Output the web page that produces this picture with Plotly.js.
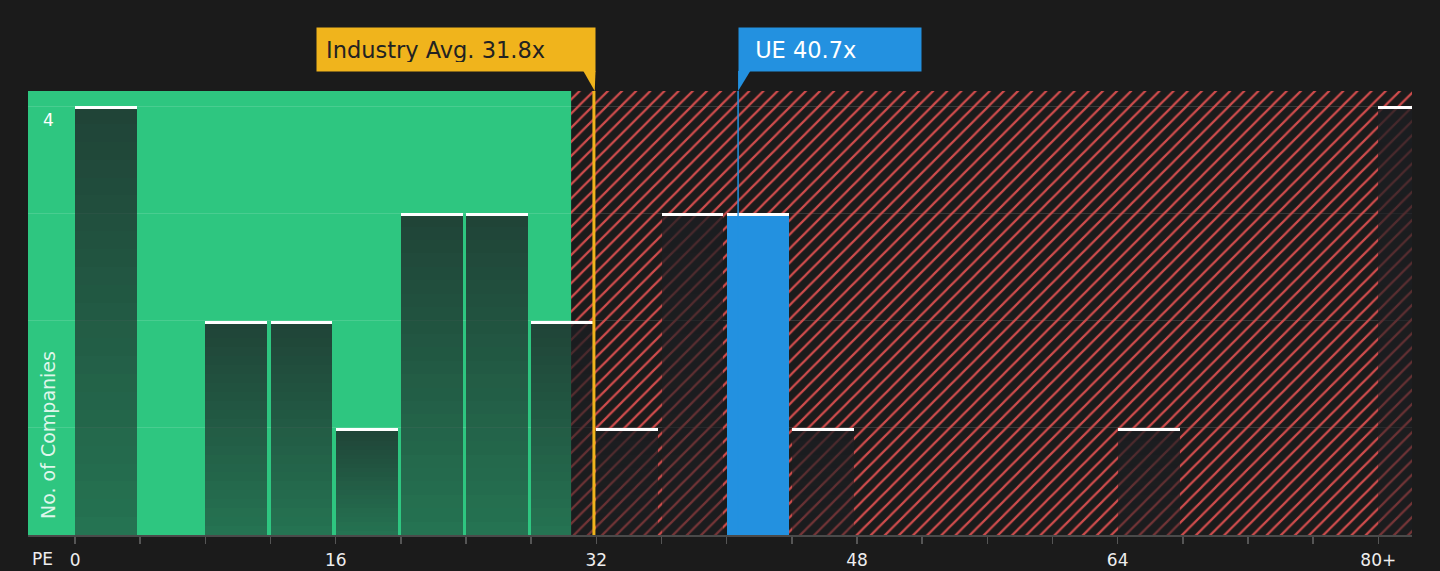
<!DOCTYPE html>
<html lang="en">
<head>
    <meta charset="UTF-8">
    <title>PE Distribution</title>
    <script src="https://cdn.plot.ly/plotly-3.0.1.min.js"></script>
    <style>
        body { margin: 0; background-color: #1b1b1b; }
        #chart { width: 1440px; height: 571px; }
    </style>
</head>
<body>
<div id="chart"></div>
<script>
    // Histogram data (PE bins, 4 wide)
    var binStart = [0, 8, 12, 16, 20, 24, 28, 32, 36, 40, 44, 64, 80];
    var counts = [4, 2, 2, 1, 3, 3, 2, 1, 3, 3, 1, 1, 4];
    var binWidth = 4;

    var industryAvg = 31.8;
    var companyPE = 40.7;
    var companyName = 'UE';
    var fairLimit = 30.45; // green / red boundary

    var xTickVals = [0, 4, 8, 12, 16, 20, 24, 28, 32, 36, 40, 44, 48, 52, 56, 60, 64, 68, 72, 76, 80];
    var xTickText = ['0', '', '', '', '16', '', '', '', '32', '', '', '', '48', '', '', '', '64', '', '', '', '80+'];
    var xRange = [-2.89, 82.07];
    var yRange = [0, 4.14];

    var barW = binWidth * 0.95;
    var isCompany = binStart.map(b => companyPE >= b && companyPE < b + binWidth);

    // Red hatched "expensive" zone
    var hatch = {
        type: 'bar',
        x: [(fairLimit + xRange[1]) / 2],
        y: [yRange[1]],
        width: [xRange[1] - fairLimit],
        marker: {
            color: 'rgba(0,0,0,0)',
            line: { width: 0 },
            pattern: { shape: '/', fgcolor: '#cf4c4c', bgcolor: 'rgba(0,0,0,0)', size: 10, solidity: 0.22 }
        },
        hoverinfo: 'skip'
    };

    // each bar is split in slices so it fades from dark (top) to lighter (bottom)
    var slices = 24;
    var sx = [], sy = [], sbase = [], scol = [];
    for (var k = 0; k < slices; k++) {
        var a = 0.49 + (0.78 - 0.49) * (k + 0.5) / slices;
        binStart.forEach(function (b, i) {
            sx.push(b);
            sy.push(counts[i] / slices);
            sbase.push(counts[i] * k / slices);
            scol.push(isCompany[i] ? '#2391e0' : 'rgba(28,30,34,' + a.toFixed(3) + ')');
        });
    }
    var bars = {
        type: 'bar',
        x: sx,
        y: sy,
        base: sbase,
        offset: 0,
        width: barW,
        marker: { color: scol, line: { width: 0 } }
    };

    // white caps on top of each bar
    var caps = {
        type: 'bar',
        x: binStart,
        y: counts.map(() => 0.03),
        base: counts.map(c => c - 0.03),
        offset: 0,
        width: barW,
        marker: { color: '#ffffff', line: { width: 0 } }
    };

    var tailTop = 1.045;
    var layout = {
        width: 1440,
        height: 571,
        margin: { l: 28, r: 28, t: 91, b: 36 },
        paper_bgcolor: '#1b1b1b',
        plot_bgcolor: '#1b1b1b',
        barmode: 'overlay',
        bargap: 0,
        showlegend: false,
        font: { family: 'DejaVu Sans, sans-serif', color: '#eeeeee', size: 17 },
        xaxis: {
            range: xRange,
            tickvals: xTickVals,
            ticktext: xTickText,
            ticks: 'outside',
            ticklen: 7,
            tickcolor: '#555555',
            tickwidth: 1.5,
            ticklabelstandoff: 2,
            showgrid: false,
            zeroline: false,
            showline: true,
            linecolor: '#4a4a4a',
            linewidth: 2,
            tickfont: { size: 17, color: '#eeeeee' }
        },
        yaxis: {
            range: yRange,
            tickvals: [1, 2, 3, 4],
            ticktext: ['', '', '', '4'],
            ticklabelposition: 'inside bottom',
            ticklabelstandoff: 12,
            ticklabelshift: 2,
            showgrid: true,
            gridcolor: 'rgba(255,255,255,0.13)',
            gridwidth: 1,
            zeroline: false,
            showline: false,
            tickfont: { size: 17, color: '#ffffff' }
        },
        shapes: [
            { type: 'rect', xref: 'x', yref: 'paper', x0: xRange[0], x1: fairLimit, y0: 0, y1: 1,
              fillcolor: '#2ec680', line: { width: 0 }, layer: 'below' },
            { type: 'line', xref: 'x', yref: 'paper', x0: industryAvg + 0.05, x1: industryAvg + 0.05, y0: 0, y1: 1,
              line: { color: '#f0b41c', width: 3 } },
            { type: 'line', xref: 'x', yref: 'paper', x0: companyPE, x1: companyPE, y0: 0, y1: 1,
              line: { color: '#2391e0', width: 1.5 } },
            { type: 'path', xref: 'x', yref: 'paper',
              path: 'M ' + (industryAvg - 0.6) + ',' + tailTop + ' L ' + (industryAvg + 0.15) + ',' + tailTop +
                    ' L ' + (industryAvg + 0.1) + ',1 Z',
              fillcolor: '#f0b41c', line: { width: 0 } },
            { type: 'path', xref: 'x', yref: 'paper',
              path: 'M ' + companyPE + ',' + tailTop + ' L ' + (companyPE + 0.75) + ',' + tailTop +
                    ' L ' + companyPE + ',1 Z',
              fillcolor: '#2391e0', line: { width: 0 } }
        ],
        annotations: [
            { x: industryAvg + 0.15, xref: 'x', y: 1, yref: 'paper', xanchor: 'right', yanchor: 'bottom',
              yshift: 19, showarrow: false, text: 'Industry Avg. ' + industryAvg + 'x',
              bgcolor: '#f0b41c', borderpad: 9, width: 260, height: 25, align: 'left',
              font: { size: 22.5, color: '#222222' } },
            { x: companyPE, xref: 'x', y: 1, yref: 'paper', xanchor: 'left', yanchor: 'bottom',
              yshift: 19, showarrow: false, text: '&nbsp;' + companyName + ' ' + companyPE + 'x',
              bgcolor: '#2391e0', borderpad: 9, width: 164, height: 25, align: 'left',
              font: { size: 22.5, color: '#ffffff' } },
            { x: 0, xref: 'paper', y: 0, yref: 'paper', xanchor: 'left', yanchor: 'bottom',
              xshift: 7, yshift: 14, textangle: -90, showarrow: false, text: 'No. of Companies',
              font: { size: 19, color: 'rgba(255,255,255,0.85)' } },
            { x: 0, xref: 'paper', y: 0, yref: 'paper', xanchor: 'center', yanchor: 'middle',
              xshift: 14, yshift: -24, showarrow: false, text: 'PE', borderpad: 0,
              font: { size: 17, color: '#eeeeee' } }
        ]
    };

    Plotly.newPlot('chart', [hatch, bars, caps], layout, { displayModeBar: false, staticPlot: true });
</script>
</body>
</html>
